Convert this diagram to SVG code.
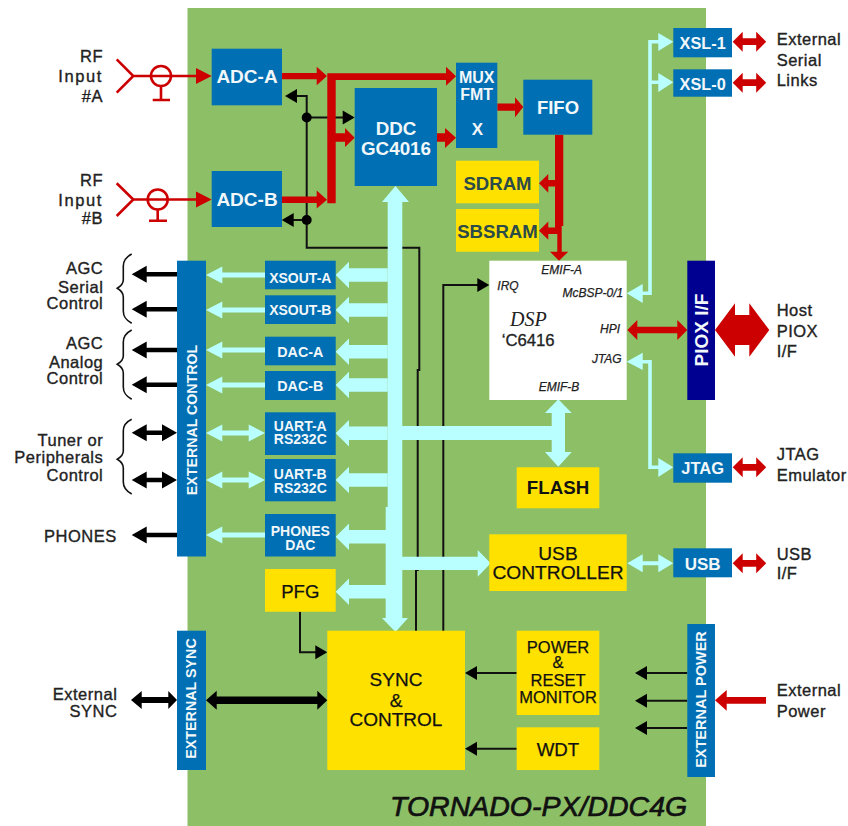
<svg xmlns="http://www.w3.org/2000/svg" width="848" height="826" viewBox="0 0 848 826">
<style>
text{font-family:"Liberation Sans",Arial,sans-serif}
.blue{fill:#006fb3}.yel{fill:#ffe100}.navy{fill:#000090}.wht{fill:#fff}
.w{fill:#f2f7fa;font-weight:bold;text-anchor:middle}
.k{fill:#111;text-anchor:middle;stroke:#111;stroke-width:.25}
.kb{fill:#111;font-weight:bold;text-anchor:middle}
.lab{fill:#222;font-size:16.5px;letter-spacing:.5px;stroke:#222;stroke-width:.35}
.wd{letter-spacing:1.6px}
.e{text-anchor:end}
.pin{fill:#222;font-size:12px;font-style:italic;stroke:#222;stroke-width:.25}
.wire{fill:none;stroke:#111;stroke-width:2}
.rf{fill:none;stroke:#cc0000;stroke-width:2.6}
.red{fill:#cc0000}.cy{fill:#b9ffff}.bk{fill:#000}
.cl{fill:none;stroke:#b9ffff;stroke-width:3.6}
.br{fill:none;stroke:#111;stroke-width:1.6}
</style>
<defs>
<path id="busL" d="M0 0L13.3-13.3V-6.8H52V6.8H13.3V13.3Z"/>
<path id="cyL" d="M0 0L16.3-8.5V-2.4H59V2.4H16.3V8.5Z"/>
<path id="cyD" d="M0 0L16.3-8.5V-2.4H42.7V-8.5L59 0L42.7 8.5V2.4H16.3V8.5Z"/>
<path id="bkL" d="M0 0L15-8.5V-2.2H45.3V2.2H15V8.5Z"/>
<path id="bkD" d="M0 0L15-8.5V-2.2H30.3V-8.5L45.3 0L30.3 8.5V2.2H15V8.5Z"/>
<path id="rdD" d="M0 0L10-10V-3.4H23.5V-10L33.5 0L23.5 10V3.4H10V10Z"/>
<path id="thL" d="M0 0L12-7V7Z"/>
<path id="thR" d="M0 0L-12-7V7Z"/>
</defs>
<rect x="187.5" y="8" width="518.5" height="818" fill="#8dbf67"/>
<g id="connectors">
<path class="wire" d="M297 96H306.7V247.7H419.3V370H417.7V570H416V631"/>
<path class="wire" d="M306.7 117.5H343M293 220H306.7"/>
<path class="wire" d="M443.3 631V285H478"/>
<path class="wire" d="M300 611.7V652.3H316"/>
<path class="wire" d="M516.7 673H476M516.7 748.7H476M687.3 673H646M687.3 700.7H646M687.3 728H646"/>
<circle class="bk" cx="306.7" cy="117.5" r="5"/><circle class="bk" cx="306.7" cy="220" r="5"/>
<use href="#thL" class="bk" x="285" y="96"/><use href="#thR" class="bk" x="354.7" y="117.5"/>
<use href="#thL" class="bk" x="281.7" y="220"/><use href="#thR" class="bk" x="489.3" y="285"/>
<use href="#thR" class="bk" x="327.3" y="652.3"/>
<use href="#thL" class="bk" x="465" y="673"/><use href="#thL" class="bk" x="465" y="748.7"/>
<use href="#thL" class="bk" x="635" y="673"/><use href="#thL" class="bk" x="635" y="700.7"/><use href="#thL" class="bk" x="635" y="728"/>

<path class="rf" d="M116.7 59.3L133.3 76L116.7 92.7M133.3 76H197M161 86V100M152.7 100H170"/>
<circle class="rf" cx="161" cy="76" r="10"/>
<path class="rf" d="M116.7 183.3L133.3 199.5L116.7 216M133.3 199.5H197M157.7 209.5V220.7M149 220.7H167"/>
<circle class="rf" cx="157.7" cy="199.5" r="10"/>
<path class="red" d="M211.7 76L196 68V84ZM211.7 199.5L196 191.5V207.5Z"/>
<path class="red" d="M282 73H316.7V66.7L327 76L316.7 85.3V79.3H282ZM282 196.5H316.7V190.5L327 199.7L316.7 208.5V203H282Z"/>
<path class="red" d="M327.3 73.3H446V66.7L456 76.2L446 85.7V80H335.7V133.3H345V128L354.7 137.7L345 147V141.7H335.7V203.3H327.3Z"/>
<path class="red" d="M437 133.3H445V128L456 137.7L445 148V141.7H437Z"/>
<path class="red" d="M497.3 103.5H515V97.3L523.3 107L515 117.3V110.7H497.3Z"/>
<path class="red" d="M555 134.7H563.3V226H561.7V251.7H568.3L559 260.7L550 251.7H557.3V234H548.3V239.7L539 230.7L548.3 221.5V227.5H555V186.5H548.3V192.7L539 183.3L548.3 174V180H555Z"/>
<use href="#rdD" class="red" x="732.7" y="41.7"/><use href="#rdD" class="red" x="732.7" y="82.7"/>
<use href="#rdD" class="red" x="732.7" y="467.3"/><use href="#rdD" class="red" x="732.7" y="563.3"/>
<path class="red" d="M627.3 330L637.3 320V326.7H677.3V320L687.3 330L677.3 340V333.3H637.3V340Z"/>
<path class="red" d="M715 330L735 303.3V315H749.3V303.3L769.3 330L749.3 356.7V345H735V356.7Z"/>
<path class="red" d="M715 700.3L726.7 690V697H766V703.7H726.7V710.7Z"/>

<path class="cy" d="M395.5 186L409 202H402.3V618H408L395.5 632L382 618H385.7V507H387.7V202H382Z"/>
<path class="cy" d="M400 426H551.7V413H545L558.3 399.3L571.7 413H565V452H571.7L558.3 466.7L545 452H551.7V440H400Z"/>
<path class="cy" d="M400 556.7H477.7V550L490.7 563.3L477.7 576.7V570H400Z"/>
<use href="#busL" class="cy" x="335.7" y="275"/><use href="#busL" class="cy" x="335.7" y="310"/>
<use href="#busL" class="cy" x="335.7" y="351.7"/><use href="#busL" class="cy" x="335.7" y="385"/>
<use href="#busL" class="cy" x="335.7" y="433.3"/><use href="#busL" class="cy" x="335.7" y="480"/>
<use href="#busL" class="cy" x="335.7" y="536.7"/><use href="#busL" class="cy" x="335.7" y="591.7"/>
<use href="#cyL" class="cy" x="206" y="275"/><use href="#cyL" class="cy" x="206" y="310"/>
<use href="#cyL" class="cy" x="206" y="350"/><use href="#cyL" class="cy" x="206" y="385"/>
<use href="#cyD" class="cy" x="206" y="433"/><use href="#cyD" class="cy" x="206" y="480"/>
<use href="#cyL" class="cy" x="206" y="535"/>
<path class="cl" d="M660 41.7H650V293.3H640M660 82.3H650M640 361.7H650V467.3H660"/>
<path class="cy" d="M673.3 41.7L658.3 33V51ZM673.3 82.3L658.3 73V92ZM626.7 293.3L642.7 284V303ZM626.7 361.7L642.7 352.7V370ZM673.3 467.3L658.3 458V477Z"/>
<path class="cy" d="M627.3 563.3L642.7 554.3V561.3H658.3V554.3L673.3 563.3L658.3 572.3V565.3H642.7V572.3Z"/>

<use href="#bkL" class="bk" x="131.7" y="274.3"/><use href="#bkL" class="bk" x="131.7" y="309.3"/>
<use href="#bkL" class="bk" x="131.7" y="350"/><use href="#bkL" class="bk" x="131.7" y="384.7"/>
<use href="#bkD" class="bk" x="131.7" y="432.7"/><use href="#bkD" class="bk" x="131.7" y="480"/>
<use href="#bkL" class="bk" x="131.7" y="535"/>
<path class="bk" d="M131 700L141.7 691V697H168.3V691L177 700L168.3 709V703H141.7V709Z"/>
<path class="bk" d="M206 700.3L216.7 690.8V696.6H317.3V690.8L327.3 700.3L317.3 709.8V704H216.7V709.8Z"/>
<path class="br" d="M131.7 254C126 257 123.3 260 123.3 266V280C123.3 284 121 286 117.3 288.3C121 290.6 123.3 293 123.3 297V311C123.3 317 126 320 131.7 323.3"/>
<path class="br" d="M131.7 330C126 333 123.3 336 123.3 342V356C123.3 360 121 362 117.3 364.3C121 366.6 123.3 369 123.3 373V387C123.3 393 126 396 131.7 399.3"/>
<path class="br" d="M131.7 419.3C126 422 123.3 425 123.3 431V451C123.3 455 121 457 117.3 459.3C121 461.6 123.3 464 123.3 468V482C123.3 488 126 491 131.7 494"/>
</g>

<g id="adc-a"><rect class="blue" x="211.7" y="48.7" width="70.3" height="56.6"/><text class="w" x="247" y="82.7" font-size="19">ADC-A</text></g>
<g id="adc-b"><rect class="blue" x="211.7" y="171" width="70.3" height="56"/><text class="w" x="247" y="205.7" font-size="19">ADC-B</text></g>
<g id="ddc"><rect class="blue" x="354.7" y="88" width="82.3" height="98"/><text class="w" x="396" y="135" font-size="18.8">DDC</text><text class="w" x="396" y="155" font-size="18.8">GC4016</text></g>
<g id="mux"><rect class="blue" x="456" y="62.7" width="41.3" height="85.3"/><text class="w" x="476.7" y="83.3" font-size="16">MUX</text><text class="w" x="476.7" y="100" font-size="16">FMT</text><text class="w" x="477.5" y="135" font-size="17">X</text></g>
<g id="fifo"><rect class="blue" x="523.3" y="79.7" width="69" height="55"/><text class="w" x="558" y="114" font-size="18.5">FIFO</text></g>
<g id="sdram"><rect class="yel" x="456" y="160.7" width="83" height="42.6"/><text class="kb" style="fill:#2b4a4a" x="497.5" y="190" font-size="18.6">SDRAM</text></g>
<g id="sbsram"><rect class="yel" x="456" y="209" width="83" height="42.7"/><text class="kb" style="fill:#2b4a4a" x="497.5" y="237.7" font-size="18.6">SBSRAM</text></g>
<g id="xsl-1"><rect class="blue" x="673.3" y="28" width="58.7" height="29.3"/><text class="w" x="702.7" y="49" font-size="16.3">XSL-1</text></g>
<g id="xsl-0"><rect class="blue" x="673.3" y="69.3" width="58.7" height="27.4"/><text class="w" x="702.7" y="90" font-size="16.3">XSL-0</text></g>
<g id="external-control"><rect class="blue" x="177" y="260.7" width="29" height="295.8"/><text class="w" transform="translate(196.5 420) rotate(-90)" font-size="14.2">EXTERNAL CONTROL</text></g>
<g id="xsout-a"><rect class="blue" x="265" y="260.7" width="70.7" height="28.6"/><text class="w" x="300.3" y="282.7" font-size="14">XSOUT-A</text></g>
<g id="xsout-b"><rect class="blue" x="265" y="295.3" width="70.7" height="28.7"/><text class="w" x="300.3" y="315" font-size="14">XSOUT-B</text></g>
<g id="dac-a"><rect class="blue" x="265" y="336.7" width="70.7" height="28.6"/><text class="w" x="300.3" y="356.7" font-size="14.3">DAC-A</text></g>
<g id="dac-b"><rect class="blue" x="265" y="371" width="70.7" height="29"/><text class="w" x="300.3" y="391.3" font-size="14.3">DAC-B</text></g>
<g id="uart-a"><rect class="blue" x="265" y="412.3" width="70.7" height="42.7"/><text class="w" x="300.3" y="430.7" font-size="14">UART-A</text><text class="w" x="300.3" y="444.3" font-size="14">RS232C</text></g>
<g id="uart-b"><rect class="blue" x="265" y="459" width="70.7" height="42.3"/><text class="w" x="300.3" y="479" font-size="14">UART-B</text><text class="w" x="300.3" y="493" font-size="14">RS232C</text></g>
<g id="phones-dac"><rect class="blue" x="265" y="514" width="70.7" height="42.5"/><text class="w" x="300.3" y="536" font-size="14">PHONES</text><text class="w" x="300.3" y="550" font-size="14">DAC</text></g>
<g id="pfg"><rect class="yel" x="265" y="569" width="70.7" height="42.7"/><text class="k" x="300.3" y="597.7" font-size="18.6">PFG</text></g>
<g id="external-sync"><rect class="blue" x="177" y="630.7" width="29" height="139.3"/><text class="w" transform="translate(196 698.5) rotate(-90)" font-size="14.3">EXTERNAL SYNC</text></g>
<g id="sync-control"><rect class="yel" x="327.3" y="630.7" width="137.7" height="139.3"/><text class="k" x="396" y="685.7" font-size="19">SYNC</text><text class="k" x="396" y="706.7" font-size="19">&amp;</text><text class="k" x="396" y="725.7" font-size="19">CONTROL</text></g>
<g id="dsp"><rect class="wht" x="489.3" y="260.7" width="137.4" height="139.3"/>
<text class="pin" x="561.7" y="274.3" text-anchor="middle">EMIF-A</text>
<text class="pin" x="497.3" y="290">IRQ</text>
<text class="pin e" x="623.3" y="296.7">McBSP-0/1</text>
<text class="pin e" x="620" y="332.7">HPI</text>
<text class="pin e" x="621.7" y="363.3">JTAG</text>
<text class="pin" x="559" y="391" text-anchor="middle">EMIF-B</text>
<text x="510" y="326" font-size="20" font-style="italic" fill="#222" style="font-family:'Liberation Serif',serif">DSP</text>
<text x="501.7" y="346" font-size="16.7" fill="#222" stroke="#222" stroke-width=".3">‘C6416</text></g>
<g id="piox"><rect class="navy" x="687.3" y="260.7" width="27.7" height="139.3"/><text class="w" transform="translate(708 330) rotate(-90)" font-size="19">PIOX I/F</text></g>
<g id="flash"><rect class="yel" x="516.7" y="467.3" width="82.6" height="41"/><text class="kb" x="558" y="494.3" font-size="18.7">FLASH</text></g>
<g id="usb-controller"><rect class="yel" x="489.3" y="534.3" width="137.4" height="56.7"/><text class="k" x="558" y="560" font-size="19.2">USB</text><text class="k" x="558" y="579" font-size="19.2">CONTROLLER</text></g>
<g id="usb"><rect class="blue" x="673.3" y="548.3" width="58.7" height="29"/><text class="w" x="702.7" y="570" font-size="17">USB</text></g>
<g id="jtag"><rect class="blue" x="673.3" y="453.3" width="58.7" height="29.4"/><text class="w" x="702.7" y="474" font-size="16.5">JTAG</text></g>
<g id="power-reset"><rect class="yel" x="516.7" y="630.7" width="82.6" height="84.3"/><text class="k" x="558" y="652.7" font-size="16.5">POWER</text><text class="k" x="558" y="668.3" font-size="16.5">&amp;</text><text class="k" x="558" y="685.7" font-size="16.5">RESET</text><text class="k" x="558" y="702.7" font-size="16.5">MONITOR</text></g>
<g id="wdt"><rect class="yel" x="516.7" y="727.3" width="82.6" height="42.7"/><text class="k" x="558" y="756" font-size="18.7">WDT</text></g>
<g id="external-power"><rect class="blue" x="687.3" y="624" width="27.7" height="153"/><text class="w" transform="translate(706 699.5) rotate(-90)" font-size="14.5">EXTERNAL POWER</text></g>

<g id="labels">
<text class="lab e" x="103" y="61.7">RF</text><text class="lab e wd" x="103" y="81.7">Input</text><text class="lab e" x="103" y="101.7">#A</text>
<text class="lab e" x="103" y="186">RF</text><text class="lab e wd" x="103" y="206">Input</text><text class="lab e" x="103" y="224">#B</text>
<text class="lab e" x="103.3" y="274">AGC</text><text class="lab e" x="103.3" y="293.3">Serial</text><text class="lab e" x="103.3" y="309">Control</text>
<text class="lab e" x="103.3" y="349.3">AGC</text><text class="lab e" x="103.3" y="368.3">Analog</text><text class="lab e" x="103.3" y="384.3">Control</text>
<text class="lab e" x="103.3" y="445.7">Tuner or</text><text class="lab e" x="103.3" y="463.3">Peripherals</text><text class="lab e" x="103.3" y="480.7">Control</text>
<text class="lab e" x="116.7" y="542.3">PHONES</text>
<text class="lab e" x="117.3" y="700">External</text><text class="lab e" x="117.3" y="717.3">SYNC</text>
<text class="lab" x="776.7" y="45">External</text><text class="lab" x="776.7" y="65.7">Serial</text><text class="lab" x="776.7" y="86">Links</text>
<text class="lab" x="776.7" y="315.7">Host</text><text class="lab" x="776.7" y="336.7">PIOX</text><text class="lab" x="776.7" y="357.3">I/F</text>
<text class="lab" x="776.7" y="460">JTAG</text><text class="lab" x="776.7" y="480.7">Emulator</text>
<text class="lab" x="776.7" y="560">USB</text><text class="lab" x="776.7" y="579.3">I/F</text>
<text class="lab" x="776.7" y="696">External</text><text class="lab" x="776.7" y="716.7">Power</text>
<text x="390" y="816" font-size="28.5" font-style="italic" fill="#111" stroke="#111" stroke-width=".7">TORNADO-PX/DDC4G</text>
</g>
</svg>
